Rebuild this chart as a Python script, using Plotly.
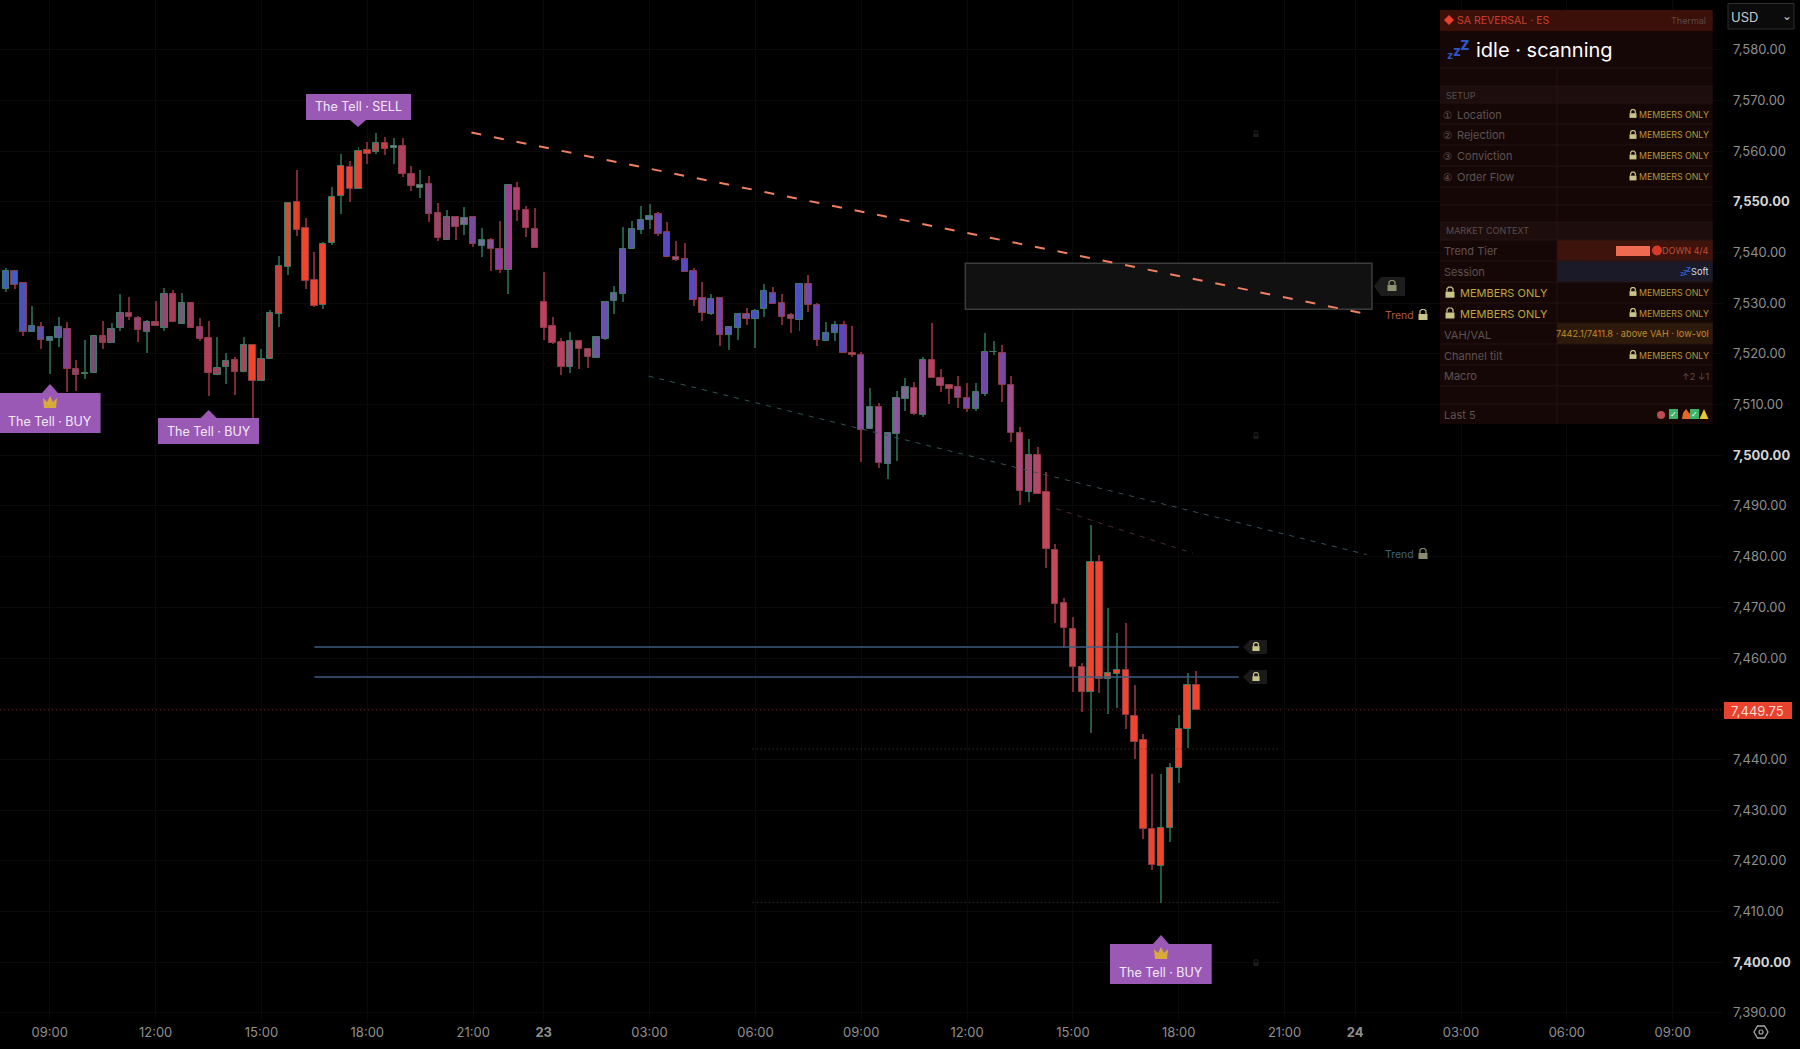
import plotly.graph_objects as go

# candle index: 15-minute bars counted from the first 09:00 bar
first_index = -6
opens = [7532.9,7532.85,7536.25,7533.95,7524.35,7525.2,7522.45,7523.2,7524.95,7516.95,7516.1,7516.15,7523.5,7522.2,7525.15,7528.0,7527.0,7524.35,7526.2,7525.15,7531.75,7525.95,7529.95,7525.2,7523.05,7515.9,7517.45,7518.7,7516.4,7521.65,7514.7,7518.9,7527.8,7537.2,7549.85,7544.75,7534.5,7529.7,7541.9,7551.2,7556.8,7552.5,7560.2,7559.75,7561.5,7560.5,7561.0,7555.45,7552.75,7553.4,7547.7,7542.45,7547.0,7545.4,7547.0,7541.3,7542.45,7540.65,7536.6,7552.75,7548.3,7544.55,7530.2,7525.5,7522.25,7517.45,7522.45,7520.85,7519.25,7523.0,7530.45,7531.7,7540.6,7544.5,7546.45,7547.5,7543.95,7539.0,7538.7,7536.35,7531.0,7527.9,7531.0,7523.75,7525.15,7527.8,7526.9,7528.9,7532.05,7529.95,7527.6,7526.65,7533.7,7529.7,7522.45,7524.15,7525.65,7520.2,7519.75,7505.2,7509.5,7498.25,7504.15,7511.0,7513.2,7507.85,7518.7,7515.3,7513.8,7513.45,7511.3,7509.1,7512.15,7520.3,7520.15,7513.8,7504.45,7492.75,7500.0,7492.75,7481.3,7470.85,7465.7,7458.15,7453.35,7479.0,7455.8,7456.8,7457.7,7448.55,7443.8,7426.25,7419.0,7426.45,7438.25,7445.95,7454.75]
closes = [7534.4,7536.25,7533.65,7524.35,7525.4,7522.7,7523.25,7525.2,7516.95,7515.9,7516.2,7523.5,7522.2,7524.95,7528.0,7527.25,7524.7,7526.2,7525.5,7531.75,7526.2,7529.95,7525.15,7522.9,7516.15,7517.2,7518.65,7516.4,7521.65,7514.7,7518.9,7528.0,7537.4,7549.65,7544.4,7534.4,7529.4,7541.65,7550.9,7557.0,7552.5,7559.95,7559.45,7561.5,7560.45,7561.0,7555.45,7553.05,7553.35,7547.5,7542.75,7546.9,7545.05,7546.7,7541.65,7542.45,7540.65,7536.5,7553.3,7548.4,7544.75,7540.85,7525.15,7522.1,7517.45,7522.45,7520.95,7519.45,7523.25,7530.15,7532.0,7540.6,7544.55,7546.4,7547.25,7543.7,7539.15,7538.5,7536.2,7530.6,7528.0,7530.75,7523.75,7525.2,7527.8,7526.9,7528.35,7532.3,7529.9,7527.25,7526.9,7533.7,7529.7,7522.7,7524.15,7525.75,7520.15,7519.75,7504.95,7509.5,7498.5,7504.45,7511.25,7513.45,7508.15,7518.7,7515.25,7513.7,7513.1,7511.3,7509.1,7512.4,7520.4,7520.4,7513.9,7504.45,7492.95,7500.0,7492.4,7481.45,7470.65,7465.9,7458.15,7453.35,7479.0,7455.8,7457.0,7457.7,7448.8,7443.5,7426.2,7419.15,7426.45,7438.25,7445.95,7454.75,7449.75]
highs = [7534.9,7536.85,7536.5,7533.95,7529.4,7526.2,7523.25,7527.2,7526.2,7518.75,7522.7,7523.5,7526.55,7526.0,7531.75,7531.25,7527.5,7526.65,7530.5,7532.9,7532.6,7532.05,7530.15,7527.0,7526.55,7523.25,7520.2,7519.3,7523.25,7521.95,7521.0,7528.65,7539.3,7550.0,7556.25,7546.7,7540.0,7542.1,7552.85,7559.4,7557.95,7560.85,7561.7,7563.5,7562.7,7562.5,7562.5,7557.05,7556.25,7555.05,7549.65,7548.35,7547.15,7549.0,7547.15,7544.75,7542.75,7546.2,7553.3,7553.95,7549.15,7548.7,7536.05,7527.3,7523.05,7524.35,7522.6,7521.05,7523.35,7530.45,7533.45,7544.95,7546.2,7549.15,7549.5,7547.9,7546.0,7542.25,7541.8,7536.85,7534.2,7531.7,7531.15,7525.5,7528.1,7528.95,7528.85,7533.7,7533.15,7531.7,7528.0,7533.7,7535.55,7529.95,7526.2,7526.45,7526.45,7525.55,7520.4,7513.2,7510.2,7504.45,7512.7,7515.3,7514.5,7519.45,7526.0,7516.95,7514.0,7515.6,7514.25,7514.15,7524.15,7522.45,7521.75,7515.7,7505.65,7503.15,7501.55,7496.6,7482.4,7471.85,7468.0,7458.95,7486.25,7480.3,7469.8,7464.85,7467.0,7454.65,7444.95,7437.05,7437.05,7439.2,7448.75,7457.1,7457.5]
lows = [7532.6,7532.1,7532.8,7523.5,7524.35,7521.0,7516.0,7521.25,7512.5,7512.7,7514.95,7516.15,7521.0,7522.2,7524.55,7526.65,7522.3,7520.2,7525.5,7524.55,7526.2,7525.95,7525.15,7522.6,7511.65,7515.75,7514.05,7511.95,7516.4,7506.0,7514.7,7518.9,7525.35,7535.55,7543.3,7532.8,7529.3,7528.75,7541.4,7547.55,7549.95,7552.5,7557.45,7559.35,7559.3,7557.45,7554.8,7552.15,7550.8,7546.05,7542.3,7542.45,7542.45,7543.5,7541.0,7539.0,7536.35,7535.85,7531.8,7546.25,7543.05,7540.85,7522.7,7521.95,7515.75,7516.25,7517.0,7517.2,7519.25,7522.7,7527.85,7530.3,7540.6,7543.6,7544.6,7543.3,7539.15,7538.35,7536.1,7529.5,7526.55,7527.6,7521.55,7520.75,7522.7,7525.65,7521.2,7527.3,7529.9,7525.75,7524.1,7524.5,7528.25,7521.55,7522.45,7522.5,7520.1,7519.45,7498.65,7505.2,7497.55,7495.25,7498.9,7508.8,7507.85,7507.45,7515.25,7512.45,7510.1,7509.3,7508.6,7508.8,7511.75,7519.7,7510.55,7502.65,7490.1,7490.75,7492.4,7477.8,7466.85,7462.05,7453.35,7449.4,7445.15,7453.15,7448.9,7450.05,7446.05,7440.15,7424.25,7418.2,7411.75,7423.65,7435.4,7442.2,7449.75]

time_tick_index = [0,12,24,36,48,56,68,80,92,104,116,128,140,148,160,172,184]
time_tick_text = ["09:00","12:00","15:00","18:00","21:00","<b>23</b>","03:00","06:00","09:00","12:00","15:00","18:00","21:00","<b>24</b>","03:00","06:00","09:00"]
price_ticks = list(range(7390, 7590, 10))
bold_prices = [7400, 7500, 7550]
last_price = 7449.75
level_prices = [7462.15, 7456.25]
value_area = [7442.05, 7411.8]

# per-candle body heat colour
heat = ["#3e5fc4","#3e5fc4","#3e5fc4","#4755b8","#4a5fae","#5f4ea8","#5f6c94","#60569c","#82428c","#8a4666","#7d5a78","#7d4a78","#963e58","#8a4a70","#8a4a78","#a04660","#8a4678","#8a5080","#a0405a","#8c4a70","#a83e58","#7c5878","#a03e60","#903e80","#b03e58","#9a4260","#a04860","#a84050","#b0425a","#f0452d","#b84040","#b84048","#c84040","#d84a38","#e0432c","#f0452d","#f0452d","#f0452d","#f0452d","#f0452d","#f0452d","#e04530","#e04530","#c04048","#c04048","#808088","#b04060","#a84060","#808088","#8a4a80","#9a4668","#8a4a78","#9a4a78","#7c6a90","#7a4a98","#7070a0","#8a5090","#8a40a0","#9a4090","#b04070","#b04070","#a84070","#c04060","#b84060","#b84060","#a05080","#b04860","#a04870","#7058a0","#6a50b0","#6a60a0","#6a50b0","#5e50b4","#5a60b0","#6070a0","#6848b4","#5a48c0","#9a6080","#5a48c0","#5a48c0","#7a5098","#5a50b8","#6a48b4","#5858b8","#5050c4","#7850a0","#4a50c8","#4a50c8","#5a50b8","#6a4ca8","#8a5070","#4850c8","#7048a8","#6a48b0","#5058b8","#5060b0","#5848c0","#b05060","#8a4aa0","#707090","#a04a90","#7a5a98","#8a5898","#7a6a90","#b04880","#8a5098","#b84060","#a84870","#b04860","#8a4a90","#7a48a0","#7058a0","#7048a8","#608080","#7a48a0","#a04a90","#a84878","#a04878","#b04868","#c04858","#c44858","#c44858","#c84850","#c84848"] + ["#f0452d"]*13

# page geometry
W, H = 1800, 1049
PW, PH = 1723, 1020
SP = 8.82            # px per candle
def xp(v): return v / PW
def yp(v): return 1 - v / PH
idx = [first_index + k for k in range(len(opens))]
x_range = [-49.8 / SP, (PW - 49.8) / SP]
y_range = [7580 - (PH - 49.6) / 5.07, 7580 + 49.6 / 5.07]

UP, DN = "#23584a", "#7a2a34"
wick_col = [UP if c >= o else DN for o, c in zip(opens, closes)]
edge_col = ["#3f7a66" if c >= o else "#8f3a46" for o, c in zip(opens, closes)]

fig = go.Figure()
# wicks
fig.add_trace(go.Bar(x=idx, y=[h - l for h, l in zip(highs, lows)], base=lows, width=0.11,
                     marker=dict(color=wick_col, line=dict(width=0)), hoverinfo="skip"))
# bodies
fig.add_trace(go.Bar(x=idx, y=[max(abs(c - o), 0.15) for o, c in zip(opens, closes)],
                     base=[min(o, c) for o, c in zip(opens, closes)], width=0.72,
                     marker=dict(color=heat, line=dict(color=edge_col, width=1)), hoverinfo="skip"))

def seg(x, y, color, width, dash="solid", opacity=1):
    fig.add_trace(go.Scatter(x=x, y=y, mode="lines", hoverinfo="skip", opacity=opacity,
                             line=dict(color=color, width=width, dash=dash)))

seg([47.8, 148.6], [7563.63, 7528.1], "#f0805f", 2, "10px,13px")
seg([67.9, 149.3], [7515.6, 7480.4], "#35525e", 1, "5px,6px")
seg([114.1, 129.6], [7489.45, 7480.65], "#4a2c34", 1, "5px,6px")
for p in level_prices:
    seg([30, 134.8], [p, p], "#3e5c80", 1.5)
for p in value_area:
    seg([79.7, 139.6], [p, p], "#3d4a44", 1, "1px,3px")

shapes = [
    dict(type="line", xref="paper", x0=0, x1=1, yref="y", y0=last_price, y1=last_price,
         line=dict(color="#6a2520", width=1, dash="1px,3px"), layer="between"),
    dict(type="rect", xref="x", x0=103.8, x1=149.9, yref="y", y0=7528.8, y1=7537.85,
         fillcolor="#111111", line=dict(color="#3c3c3c", width=1.5), layer="between"),
]
def rect(x0, y0, x1, y1, fill, line=None):
    shapes.append(dict(type="rect", xref="paper", yref="paper", x0=xp(x0), x1=xp(x1), y0=yp(y1), y1=yp(y0),
                       fillcolor=fill, line=dict(color=line or fill, width=1 if line else 0), layer="above"))
def hline(x0, x1, y, color):
    shapes.append(dict(type="line", xref="paper", yref="paper", x0=xp(x0), x1=xp(x1), y0=yp(y), y1=yp(y),
                       line=dict(color=color, width=1), layer="above"))
def poly(pts, fill, line=None):
    d = "M " + " L ".join(f"{xp(a):.5f} {yp(b):.5f}" for a, b in pts) + " Z"
    shapes.append(dict(type="path", xref="paper", yref="paper", path=d, fillcolor=fill,
                       line=dict(color=line or fill, width=1.3 if line else 0), layer="above"))

anns = []
def txt(x, y, s, size=11, color="#888", anchor="left", family="Inter"):
    anns.append(dict(xref="paper", yref="paper", x=xp(x), y=yp(y), text=s, showarrow=False,
                     xanchor=anchor, yanchor="middle", font=dict(size=size, color=color, family=family),
                     borderpad=0, borderwidth=0))

def lock(cx, cy, s=1.0, color="#c9c48a"):
    # small padlock icon
    rect(cx - 4.5*s, cy - 1*s, cx + 4.5*s, cy + 5*s, color)
    shapes.append(dict(type="path", xref="paper", yref="paper", layer="above",
                       path=f"M {xp(cx-3*s):.5f} {yp(cy-1*s):.5f} L {xp(cx-3*s):.5f} {yp(cy-4*s):.5f} L {xp(cx-1.5*s):.5f} {yp(cy-5.5*s):.5f} L {xp(cx+1.5*s):.5f} {yp(cy-5.5*s):.5f} L {xp(cx+3*s):.5f} {yp(cy-4*s):.5f} L {xp(cx+3*s):.5f} {yp(cy-1*s):.5f}",
                       line=dict(color=color, width=1.2)))

# signal labels
PURPLE = "#9b59b6"
def label(x0, y0, x1, y1, tipx, tipy, s, crown=False):
    rect(x0, y0, x1, y1, PURPLE)
    if tipy < y0:
        poly([(tipx - 8, y0), (tipx, tipy), (tipx + 8, y0)], PURPLE)
    else:
        poly([(tipx - 8, y1), (tipx, tipy), (tipx + 8, y1)], PURPLE)
    cx = (x0 + x1) / 2
    if crown:
        poly([(tipx-6, y0+15), (tipx-7, y0+5), (tipx-3, y0+9), (tipx, y0+3), (tipx+3, y0+9), (tipx+7, y0+5), (tipx+6, y0+15)], "#d9a93a")
        txt(cx, y0 + 28, s, 12.5, "#f2e9f7", "center")
    else:
        txt(cx, (y0 + y1) / 2, s, 12.5, "#f2e9f7", "center")
label(0, 393, 100.6, 433, 50, 384, "The Tell · BUY", True)
label(158, 418, 259, 444, 208.7, 410, "The Tell · BUY")
label(306, 94, 411, 120, 358, 127, "The Tell · SELL")
label(1110, 944, 1211.7, 984, 1161, 935, "The Tell · BUY", True)

# lock tags on the level lines and box
for yc in (647, 677):
    poly([(1243, yc), (1250, yc-7), (1267, yc-7), (1267, yc+7), (1250, yc+7)], "#1a1a1a")
    lock(1256, yc, 0.8)
poly([(1374, 286), (1381, 277), (1405, 277), (1405, 296), (1381, 296)], "#1c1c1c")
lock(1392, 286, 1.0, "#8f9270")
txt(1385, 315, "Trend", 10.5, "#a85a48")
lock(1423, 315, 1.0)
txt(1385, 554, "Trend", 10.5, "#3f6078")
lock(1423, 554, 1.0, "#8a8a70")
for yc in (134, 436, 963):
    lock(1256, yc, 0.6, "#1a1a1a")

# panel
P0, P1 = 1440, 1712.7
rect(P0, 10, P1, 424, "#160707")
rect(P0, 10, P1, 31, "#3a1009")
rect(P0, 86, P1, 103, "#1d0e0d")
rect(P0, 222, P1, 240, "#1d0e0d")
rect(1557, 240, P1, 261, "#3e130c")
rect(1557, 261, P1, 282, "#1a1a28")
rect(1557, 323, P1, 344, "#2e1a0b")
for yy in (68, 86, 103, 124, 145, 166, 187, 205, 222, 240, 261, 282, 303, 323, 344, 365, 386, 404):
    hline(P0, P1, yy, "#241312")
shapes.append(dict(type="line", xref="paper", yref="paper", x0=xp(1557), x1=xp(1557), y0=yp(424), y1=yp(68),
                   line=dict(color="#241312", width=1), layer="above"))
poly([(1444, 20), (1449, 15), (1454, 20), (1449, 25)], "#e8402c")
txt(1457, 20, "SA REVERSAL · ES", 10.5, "#c8402c")
txt(1706, 20, "Thermal", 9, "#5c4a46", "right")
txt(1447, 55, "<b>z</b>", 11, "#2f55c8")
txt(1453, 50, "<b>z</b>", 14, "#2f55c8")
txt(1460, 44, "<b>z</b>", 17, "#2f55c8")
txt(1476, 50, "idle · scanning", 20, "#ffffff")
txt(1446, 95, "SETUP", 9, "#5c4c4a")
for y, mark, name in zip((114.6, 135.5, 156, 177), "①②③④", ("Location", "Rejection", "Conviction", "Order Flow")):
    txt(1443, y, mark, 10.5, "#5e5250", family="DejaVu Sans")
    txt(1457, y, name, 11, "#5e5250")
members_rows = [114, 135, 155.5, 176.5, 292, 313, 355]
for y in members_rows:
    lock(1633, y, 0.78)
    txt(1709, y, "MEMBERS ONLY", 8.8, "#b3963c", "right")
txt(1446, 231, "MARKET CONTEXT", 9, "#5c4c4a")
txt(1444, 251, "Trend Tier", 11, "#5e5250")
rect(1616, 246, 1650, 256, "#ee6a50")
shapes.append(dict(type="circle", xref="paper", yref="paper", x0=xp(1652), x1=xp(1662), y0=yp(255.5), y1=yp(245.5),
                   fillcolor="#d83a2a", line=dict(width=0), layer="above"))
txt(1709, 250.5, "DOWN 4/4", 9, "#c04a30", "right")
txt(1444, 272, "Session", 11, "#5e5250")
txt(1680, 274, "<b>z</b>", 7, "#2f55c8")
txt(1683, 272, "<b>z</b>", 8, "#2f55c8")
txt(1686, 269, "<b>z</b>", 9, "#2f55c8")
txt(1709, 271.5, "Soft", 9.2, "#d8d8e0", "right")
for y in (292.7, 313.5):
    lock(1450, y, 1.0)
    txt(1460, y, "MEMBERS ONLY", 11, "#bfa544")
txt(1444, 335, "VAH/VAL", 11, "#5e5250")
txt(1709, 334, "7442.1/7411.8 · above VAH · low-vol", 9.2, "#c08a2e", "right")
txt(1444, 355.5, "Channel tilt", 11, "#5e5250")
txt(1444, 376, "Macro", 11, "#5e5250")
txt(1709, 376, "↑2 ↓1", 9.2, "#5c4c4a", "right")
txt(1444, 415, "Last 5", 11, "#5e5250")
# last-5 icons
shapes.append(dict(type="circle", xref="paper", yref="paper", x0=xp(1657), x1=xp(1665), y0=yp(419), y1=yp(411),
                   fillcolor="#c04a50", line=dict(width=0), layer="above"))
rect(1669, 409, 1678, 419, "#3db36a")
txt(1673.5, 414, "✓", 8, "#ffffff", "center", "DejaVu Sans")
poly([(1682, 419), (1683, 413), (1686, 409), (1690, 414), (1690, 419)], "#e8662a")
rect(1690, 409, 1699, 419, "#3db36a")
txt(1694.5, 414, "✓", 8, "#ffffff", "center", "DejaVu Sans")
poly([(1699.5, 419), (1704, 409), (1708.5, 419)], "#e8c53a")

# USD selector
rect(1728, 3.5, 1794, 29, "#0b0b0b", "#2e2e2e")
txt(1731, 17, "USD", 13, "#c8c8c8")
txt(1787, 16, "⌄", 12, "#c8c8c8", "center", "DejaVu Sans")
# last price tag
rect(1724, 702, 1792, 719, "#e8412e")
txt(1757.5, 710.5, "7,449.75", 13, "#ffdcd4", "center")
# settings hexagon
poly([(1754, 1032), (1757.5, 1026), (1764.5, 1026), (1768, 1032), (1764.5, 1038), (1757.5, 1038)], "rgba(0,0,0,0)", "#a8a8a8")
shapes.append(dict(type="circle", xref="paper", yref="paper", x0=xp(1759), x1=xp(1763), y0=yp(1034), y1=yp(1030),
                   line=dict(color="#a8a8a8", width=1.2), layer="above"))

def price_label(p):
    if p == 7450:
        return ""
    s = f"{p:,.2f}"
    return f"<b style='color:#d4d4d4'>{s}</b>" if p in bold_prices else s

fig.update_layout(
    width=W, height=H, autosize=False, showlegend=False, barmode="overlay", bargap=0,
    paper_bgcolor="#000000", plot_bgcolor="#000000",
    margin=dict(l=0, r=W - PW, t=0, b=H - PH, pad=0),
    font=dict(family="Inter", size=13, color="#8f8f8f"),
    shapes=shapes, annotations=anns,
    xaxis=dict(range=x_range, tickmode="array", tickvals=time_tick_index, ticktext=time_tick_text,
               showgrid=True, gridcolor="#0a0a0a", gridwidth=1, zeroline=False, showline=False, ticks="",
               tickfont=dict(size=13, color="#8f8f8f", family="Inter"), ticklabelstandoff=3, fixedrange=True),
    yaxis=dict(range=y_range, side="right", tickmode="array", tickvals=price_ticks,
               ticktext=[price_label(p) for p in price_ticks],
               showgrid=True, gridcolor="#0a0a0a", gridwidth=1, zeroline=False, showline=False, ticks="",
               tickfont=dict(size=13, color="#8f8f8f", family="Inter"), ticklabelstandoff=9, fixedrange=True),
)
fig.write_html("out.html", config=dict(displayModeBar=False),
               post_script="document.body.style.margin='0';document.body.style.background='#000';document.documentElement.style.overflow='hidden';")
